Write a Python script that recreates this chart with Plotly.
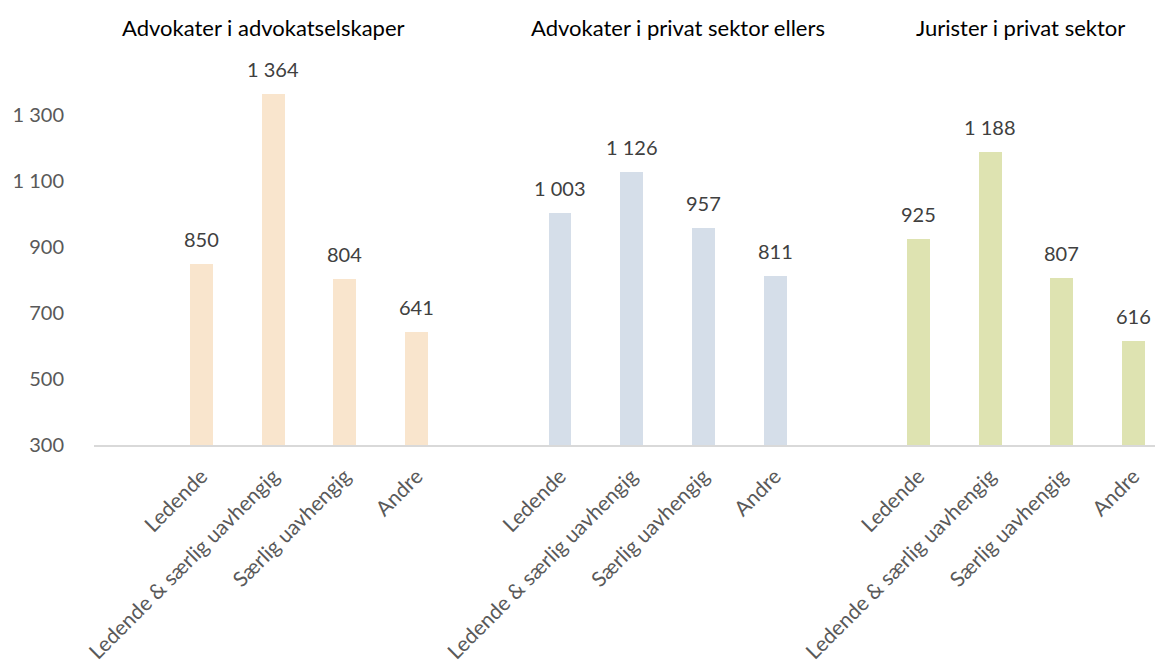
import plotly.graph_objects as go

groups = ["Advokater i advokatselskaper", "Advokater i privat sektor ellers", "Jurister i privat sektor"]
categories = ["Ledende", "Ledende & særlig uavhengig", "Særlig uavhengig", "Andre"]
values_g1 = [850, 1364, 804, 641]
values_g2 = [1003, 1126, 957, 811]
values_g3 = [925, 1188, 807, 616]
colors = ["#F9E5CD", "#D5DEE9", "#DEE3B1"]
y_ticks = [300, 500, 700, 900, 1100, 1300]

def fmt(v):
    return f"{v:,}".replace(",", " ")

FONT = "Lato"
fig = go.Figure()
all_vals = [values_g1, values_g2, values_g3]
tickvals, ticktext = [], []
annotations = []
for gi, vals in enumerate(all_vals):
    xs = [gi * 5 + 1 + i for i in range(len(vals))]
    tickvals += xs
    ticktext += categories
    fig.add_trace(go.Bar(x=xs, y=[v - 300 for v in vals], base=300, width=0.32,
                         marker=dict(color=colors[gi], line=dict(width=0)),
                         showlegend=False, hoverinfo="skip"))
    for x, v in zip(xs, vals):
        annotations.append(dict(x=x, y=v, xref="x", yref="y", text=fmt(v),
                                showarrow=False, yanchor="bottom", yshift=11,
                                font=dict(family=FONT, size=20, color="#404040")))

title_x = [0.160, 0.550, 0.873]
for g, tx in zip(groups, title_x):
    annotations.append(dict(x=tx, y=1.151, xref="paper", yref="paper", text=g,
                            showarrow=False, xanchor="center", yanchor="middle",
                            font=dict(family=FONT, size=22, color="#000000")))

fig.update_layout(
    width=1155, height=669,
    margin=dict(l=94, r=0, t=82, b=224),
    paper_bgcolor="white", plot_bgcolor="white",
    annotations=annotations,
    bargap=0,
)
fig.update_xaxes(range=[-0.5, 14.3], tickmode="array", tickvals=tickvals, ticktext=ticktext,
                 tickangle=-45, showgrid=False, zeroline=False, automargin=False,
                 showline=True, linecolor="#D9D9D9", linewidth=1.5,
                 ticks="", ticklabelstandoff=9,
                 tickfont=dict(family=FONT, size=21, color="#595959"))
fig.update_yaxes(range=[300, 1400], tickmode="array", tickvals=y_ticks, automargin=False,
                 ticktext=[fmt(v) for v in y_ticks], showgrid=False, zeroline=False,
                 showline=False, ticks="", ticklabelstandoff=29,
                 tickfont=dict(family=FONT, size=20, color="#595959"))

fig.write_html("out.html", config={"displayModeBar": False},
               post_script="document.body.style.margin='0';")
